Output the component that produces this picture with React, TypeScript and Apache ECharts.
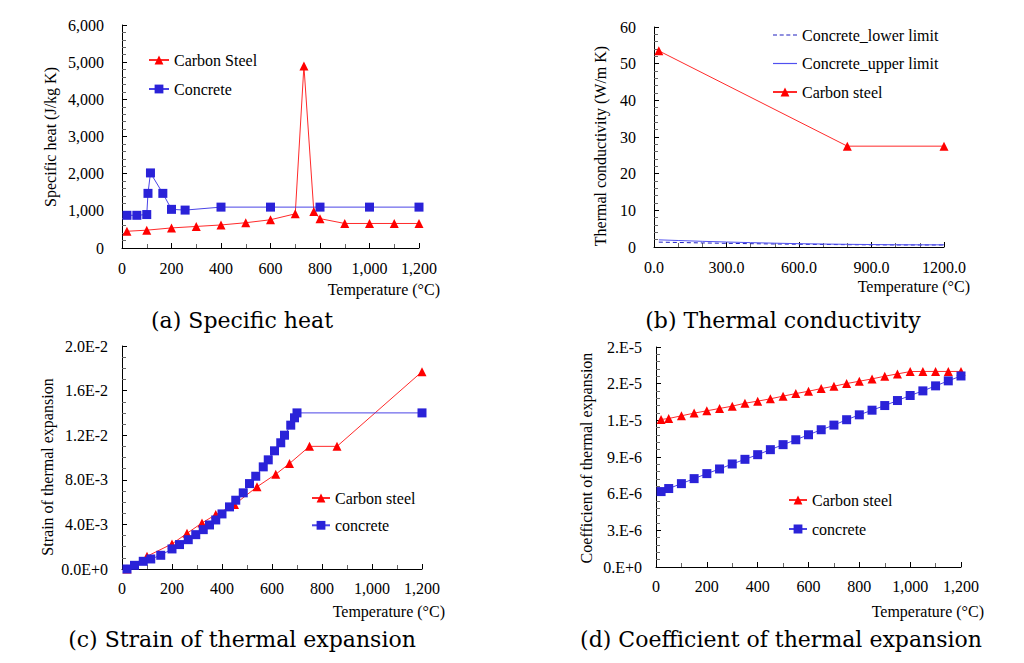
import React, { useEffect, useRef } from 'react';
import * as echarts from 'echarts';

// (a) Specific heat
const aSteelTemp = [20, 100, 200, 300, 400, 500, 600, 700, 735, 775, 800, 900, 1000, 1100, 1200];
const aSteelValue = [450, 480, 540, 580, 620, 680, 760, 920, 4900, 985, 790, 660, 660, 660, 660];
const aConcreteTemp = [20, 60, 100, 105, 115, 165, 200, 255, 400, 600, 800, 1000, 1200];
const aConcreteValue = [880, 880, 900, 1470, 2020, 1470, 1040, 1020, 1100, 1100, 1100, 1100, 1100];

// (b) Thermal conductivity
const bConcreteTemp = [20, 100, 200, 300, 400, 500, 600, 700, 800, 900, 1000, 1100, 1200];
const bConcreteUpper = [1.95, 1.77, 1.55, 1.36, 1.19, 1.04, 0.91, 0.81, 0.73, 0.67, 0.62, 0.6, 0.6];
const bConcreteLower = [1.33, 1.23, 1.11, 1.0, 0.91, 0.82, 0.75, 0.69, 0.63, 0.59, 0.56, 0.55, 0.55];
const bSteelTemp = [20, 800, 1200];
const bSteelValue = [53.5, 27.5, 27.5];

// (c) Strain of thermal expansion
const cSteelTemp = [20, 100, 200, 260, 320, 375, 450, 540, 615, 670, 750, 860, 1200];
const cSteelValue = [0, 0.00114, 0.00225, 0.0032, 0.00413, 0.00488, 0.00578, 0.00737, 0.0085, 0.00946, 0.011, 0.011, 0.0177];
const cConcreteTemp = [20, 50, 85, 115, 155, 200, 230, 265, 295, 325, 350, 375, 400, 430, 455, 485, 510, 535, 565, 585, 610, 635, 650, 675, 690, 700, 1200];
const cConcreteValue = [0, 0.00033, 0.00069, 0.0009, 0.00123, 0.0018, 0.00219, 0.00263, 0.00308, 0.00353, 0.00395, 0.0044, 0.00494, 0.00557, 0.00617, 0.00683, 0.00766, 0.00832, 0.00916, 0.00979, 0.0106, 0.01132, 0.012, 0.0129, 0.01356, 0.014, 0.014];

// (d) Coefficient of thermal expansion
const dTemp = [20, 50, 100, 150, 200, 250, 300, 350, 400, 450, 500, 550, 600, 650, 700, 750, 800, 850, 900, 950, 1000, 1050, 1100, 1150, 1200];
const dSteelValue = [1.207e-5, 1.215e-5, 1.237e-5, 1.259e-5, 1.278e-5, 1.297e-5, 1.316e-5, 1.34e-5, 1.357e-5, 1.376e-5, 1.398e-5, 1.419e-5, 1.438e-5, 1.46e-5, 1.479e-5, 1.501e-5, 1.52e-5, 1.539e-5, 1.561e-5, 1.58e-5, 1.599e-5, 1.6e-5, 1.6e-5, 1.6e-5, 1.6e-5];
const dConcreteValue = [6.17e-6, 6.42e-6, 6.82e-6, 7.23e-6, 7.64e-6, 8.02e-6, 8.43e-6, 8.81e-6, 9.19e-6, 9.6e-6, 1.001e-5, 1.041e-5, 1.082e-5, 1.123e-5, 1.161e-5, 1.205e-5, 1.245e-5, 1.283e-5, 1.321e-5, 1.362e-5, 1.403e-5, 1.441e-5, 1.482e-5, 1.523e-5, 1.563e-5];
const dYTickLabels = ['0.E+0', '3.E-6', '6.E-6', '9.E-6', '1.E-5', '2.E-5', '2.E-5'];

const SERIF = "'Liberation Serif', 'Times New Roman', Times, serif";
const CAPTION_FONT = "'DejaVu Serif', serif";
const RED = '#ff0000';
const RED_LINE = '#ff2a2a';
const BLUE = '#2a22d8';
const BLUE_LINE = '#4a44e6';
const LINE_ICON = 'path://M0,0H24V1.2H0Z';
const DASH_ICON = 'path://M0,0H4V1.2H0Z M6.7,0H10.7V1.2H6.7Z M13.3,0H17.3V1.2H13.3Z M20,0H24V1.2H20Z';

const zip = (xs: number[], ys: number[]) => xs.map((x, i) => [x, ys[i]]);
const comma = (v: number) => Math.round(v).toLocaleString('en-US');

function xAxis(gridIndex: number, interval: number, fmt: (v: number) => string, margin: number) {
  return {
    type: 'value', gridIndex, min: 0, max: 1200, interval,
    axisLine: { show: true, onZero: false, lineStyle: { color: '#000', width: 1 } },
    axisTick: { show: true, inside: true, length: 5, lineStyle: { color: '#000' } },
    minorTick: { show: true, splitNumber: interval / 100, length: 4, lineStyle: { color: '#666' } },
    splitLine: { show: false },
    axisLabel: { fontFamily: SERIF, fontSize: 16, color: '#000', margin, formatter: fmt, showMaxLabel: true, showMinLabel: true },
  };
}

function yAxis(gridIndex: number, max: number, interval: number, minor: number, fmt: (v: number) => string, margin: number) {
  return {
    type: 'value', gridIndex, min: 0, max, interval,
    axisLine: { show: true, onZero: false, lineStyle: { color: '#000', width: 1 } },
    axisTick: { show: true, inside: true, length: 5, lineStyle: { color: '#000' } },
    minorTick: { show: true, splitNumber: minor, length: 4, lineStyle: { color: '#666' } },
    splitLine: { show: false },
    axisLabel: { fontFamily: SERIF, fontSize: 16, color: '#000', margin, formatter: fmt },
  };
}

function steelSeries(name: string, idx: number, data: number[][]) {
  return {
    name, type: 'line', xAxisIndex: idx, yAxisIndex: idx, data,
    symbol: 'triangle', symbolSize: 9, showAllSymbol: true,
    lineStyle: { color: RED_LINE, width: 1 }, itemStyle: { color: RED },
  };
}

function concreteSeries(name: string, idx: number, data: number[][]) {
  return {
    name, type: 'line', xAxisIndex: idx, yAxisIndex: idx, data,
    symbol: 'rect', symbolSize: 9, showAllSymbol: true,
    lineStyle: { color: BLUE_LINE, width: 1 }, itemStyle: { color: BLUE },
  };
}

function legend(names: any[], left: number, top: number, itemWidth: number, itemGap: number) {
  return {
    data: names, orient: 'vertical', left, top, itemWidth, itemHeight: 11, itemGap,
    padding: 0, selectedMode: false,
    textStyle: { fontFamily: SERIF, fontSize: 16, color: '#000' },
  };
}

function txt(text: string, x: number, y: number, align: string, size: number, family: string, rotate = 0) {
  return {
    type: 'text', x, y, rotation: rotate, silent: true,
    style: { text, fill: '#000', fontSize: size, fontFamily: family, textAlign: align, textVerticalAlign: 'middle' },
  };
}

export default function App() {
  const ref = useRef<HTMLDivElement>(null);
  useEffect(() => {
    if (!ref.current) return;
    const chart = echarts.init(ref.current, undefined, { renderer: 'svg' });
    const option = {
      animation: false,
      backgroundColor: '#fff',
      textStyle: { fontFamily: SERIF },
      grid: [
        { left: 122, top: 25, width: 297, height: 223 },
        { left: 654, top: 27, width: 290, height: 220 },
        { left: 122, top: 346, width: 300, height: 223 },
        { left: 656, top: 347, width: 305, height: 220 },
      ],
      xAxis: [
        xAxis(0, 200, comma, 12),
        xAxis(1, 300, (v: number) => v.toFixed(1), 12),
        xAxis(2, 200, comma, 11),
        xAxis(3, 200, comma, 11),
      ],
      yAxis: [
        yAxis(0, 6000, 1000, 5, comma, 18),
        yAxis(1, 60, 10, 5, (v: number) => String(Math.round(v)), 18),
        yAxis(2, 0.02, 0.004, 4, (v: number) => v.toExponential(1).replace('e', 'E'), 14),
        yAxis(3, 1.8e-5, 3e-6, 5, (v: number) => dYTickLabels[Math.round(v / 3e-6)] ?? '', 14),
      ],
      legend: [
        legend(['Carbon Steel', 'Concrete'], 148, 52, 20, 13),
        legend([
          { name: 'Concrete_lower limit', icon: DASH_ICON },
          { name: 'Concrete_upper limit', icon: LINE_ICON },
          'Carbon steel',
        ], 772, 27, 24, 12.5),
        legend(['Carbon steel', 'concrete'], 311, 490, 18, 11.3),
        legend(['Carbon steel', 'concrete'], 788, 492, 18, 13),
      ],
      series: [
        steelSeries('Carbon Steel', 0, zip(aSteelTemp, aSteelValue)),
        concreteSeries('Concrete', 0, zip(aConcreteTemp, aConcreteValue)),
        {
          name: 'Concrete_lower limit', type: 'line', xAxisIndex: 1, yAxisIndex: 1,
          data: zip(bConcreteTemp, bConcreteLower), symbol: 'none',
          lineStyle: { color: '#2020c0', width: 1, type: [4, 3] }, itemStyle: { color: '#2020c0' },
        },
        {
          name: 'Concrete_upper limit', type: 'line', xAxisIndex: 1, yAxisIndex: 1,
          data: zip(bConcreteTemp, bConcreteUpper), symbol: 'none',
          lineStyle: { color: '#5050f0', width: 1 }, itemStyle: { color: '#5050f0' },
        },
        steelSeries('Carbon steel', 1, zip(bSteelTemp, bSteelValue)),
        steelSeries('Carbon steel', 2, zip(cSteelTemp, cSteelValue)),
        concreteSeries('concrete', 2, zip(cConcreteTemp, cConcreteValue)),
        steelSeries('Carbon steel', 3, zip(dTemp, dSteelValue)),
        concreteSeries('concrete', 3, zip(dTemp, dConcreteValue)),
      ],
      graphic: [
        txt('Specific heat (J/kg K)', 50, 137, 'center', 16, SERIF, Math.PI / 2),
        txt('Thermal conductivity (W/m K)', 600, 146, 'center', 16, SERIF, Math.PI / 2),
        txt('Strain of thermal expansion', 47, 467, 'center', 16, SERIF, Math.PI / 2),
        txt('Coefficient of thermal expansion', 586, 458, 'center', 16, SERIF, Math.PI / 2),
        txt('Temperature (°C)', 440, 289, 'right', 16, SERIF),
        txt('Temperature (°C)', 970, 286, 'right', 16, SERIF),
        txt('Temperature (°C)', 445, 611, 'right', 16, SERIF),
        txt('Temperature (°C)', 984, 611, 'right', 16, SERIF),
        txt('(a) Specific heat', 242, 320, 'center', 22, CAPTION_FONT),
        txt('(b) Thermal conductivity', 783, 320, 'center', 22, CAPTION_FONT),
        txt('(c) Strain of thermal expansion', 242, 639, 'center', 22, CAPTION_FONT),
        txt('(d) Coefficient of thermal expansion', 781, 639, 'center', 22, CAPTION_FONT),
      ],
    };
    chart.setOption(option as any);
    return () => chart.dispose();
  }, []);
  return (
    <div
      ref={ref}
      style={{ position: 'fixed', left: 0, top: 0, width: 1024, height: 663, background: '#fff' }}
    />
  );
}
